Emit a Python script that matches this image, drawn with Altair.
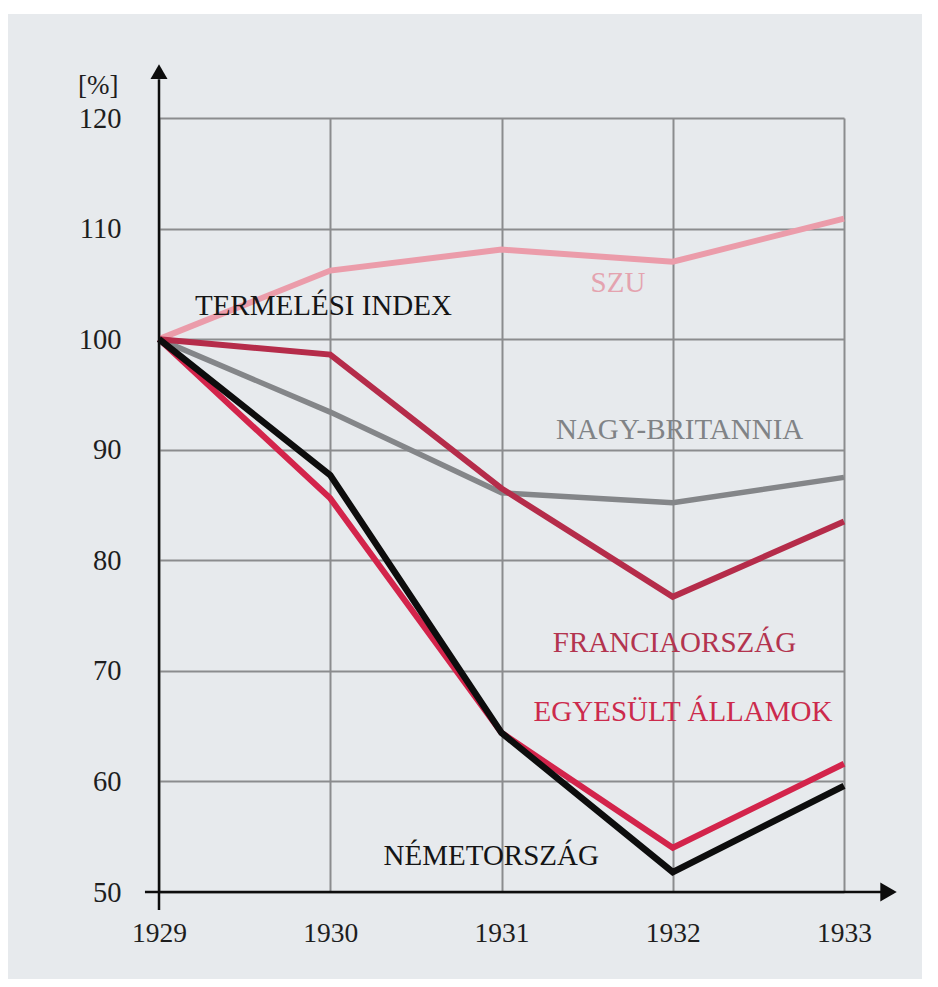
import altair as alt
import pandas as pd

# ---- data ----
years = [1929, 1930, 1931, 1932, 1933]
szu = [100, 106.2, 108.1, 107.0, 110.9]
nagy_britannia = [100, 93.4, 86.1, 85.2, 87.5]
franciaorszag = [100, 98.6, 86.5, 76.7, 83.5]
egyesult_allamok = [100, 85.6, 64.4, 54.0, 61.6]
nemetorszag = [100, 87.7, 64.4, 51.8, 59.6]

series_names = ["SZU", "NAGY-BRITANNIA", "FRANCIAORSZÁG", "EGYESÜLT ÁLLAMOK", "NÉMETORSZÁG"]
series_values = [szu, nagy_britannia, franciaorszag, egyesult_allamok, nemetorszag]
line_colors = ["#eb9caa", "#848689", "#b52c4a", "#d3244b", "#0d0d0d"]
line_widths = [6, 5.5, 6, 6, 6.5]

y_ticks = [50, 60, 70, 80, 90, 100, 110, 120]

# annotation labels (text, anchor year, anchor value, colour)
label_texts = ["TERMELÉSI INDEX", "SZU", "NAGY-BRITANNIA", "FRANCIAORSZÁG", "EGYESÜLT ÁLLAMOK", "NÉMETORSZÁG"]
label_x = [1929.96, 1931.68, 1932.04, 1932.01, 1932.06, 1930.94]
label_y = [103.0, 105.1, 91.8, 72.5, 66.3, 53.3]
label_colors = ["#151515", "#e4a3af", "#808386", "#b3344f", "#cc2a4c", "#151515"]

FONT = "Liberation Serif"
GRID = "#8b8c8e"
BG = "#e7eaed"

xscale = alt.Scale(domain=[1929, 1933], nice=False, zero=False)
yscale = alt.Scale(domain=[50, 120], nice=False, zero=False)

x_axis = alt.Axis(
    values=years, format="d", grid=True, gridColor=GRID, gridWidth=2,
    domain=False, ticks=False, labelFont=FONT, labelFontSize=27.5,
    labelColor="#1e1e1e", labelPadding=27, labelFlush=False, title=None)
y_axis = alt.Axis(
    values=y_ticks, grid=True, gridColor=GRID, gridWidth=2,
    domain=False, ticks=False, labelFont=FONT, labelFontSize=28.5,
    labelColor="#1e1e1e", labelPadding=38, labelFlush=False,
    title="[%]", titleAngle=0, titleAlign="right", titleBaseline="middle",
    titleX=-41, titleY=-33, titleFont=FONT, titleFontSize=27,
    titleFontWeight="normal", titleColor="#1e1e1e")


def X(field):
    return alt.X(field, scale=xscale, axis=x_axis)


def Y(field):
    return alt.Y(field, scale=yscale, axis=y_axis)


# white strip above the grey panel
strip = alt.Chart(pd.DataFrame({"a": [0]})).mark_rect(color="white").encode(
    x=alt.value(-151), x2=alt.value(771), y=alt.value(-110), y2=alt.value(-104)
)

layers = [strip]

for i, (name, vals) in enumerate(zip(series_names, series_values)):
    df = pd.DataFrame({"year": years, "value": vals, "series": name})
    layers.append(
        alt.Chart(df).mark_line(color=line_colors[i], strokeWidth=line_widths[i],
                                strokeJoin="miter", strokeCap="butt").encode(
            x=X("year:Q"), y=Y("value:Q"))
    )

# axis lines with arrows
axis_df = pd.DataFrame({
    "x": [1929, 1928.918], "x2": [1929, 1933.22],
    "y": [48.37, 50], "y2": [123.5, 50],
})
axes_rule = alt.Chart(axis_df).mark_rule(color="#0d0d0d", strokeWidth=2.5).encode(
    x=X("x:Q"), x2="x2:Q", y=Y("y:Q"), y2="y2:Q",
)
arrow_up = alt.Chart(pd.DataFrame({"x": [1929], "y": [124.2]})).mark_point(
    shape="triangle-up", filled=True, size=289, color="#0d0d0d", opacity=1
).encode(x=X("x:Q"), y=Y("y:Q"))
arrow_right = alt.Chart(pd.DataFrame({"x": [1933.26], "y": [50]})).mark_point(
    shape="triangle-right", filled=True, size=361, color="#0d0d0d", opacity=1
).encode(x=X("x:Q"), y=Y("y:Q"))

labels_df = pd.DataFrame({"text": label_texts, "x": label_x, "y": label_y, "c": label_colors})
labels = alt.Chart(labels_df).mark_text(
    font=FONT, fontSize=29, align="center", baseline="middle"
).encode(
    x=X("x:Q"),
    y=Y("y:Q"),
    text="text:N",
    color=alt.Color("c:N", scale=None, legend=None),
)

layers += [axes_rule, arrow_up, arrow_right, labels]

chart = alt.layer(*layers).properties(
    width=685, height=774,
    autosize=alt.AutoSizeParams(type="none"),
    padding={"left": 151, "top": 110, "right": 78, "bottom": 87},
    background=BG,
).configure_view(stroke=None)

chart.save("out.html", embed_options={"renderer": "svg", "actions": False})
